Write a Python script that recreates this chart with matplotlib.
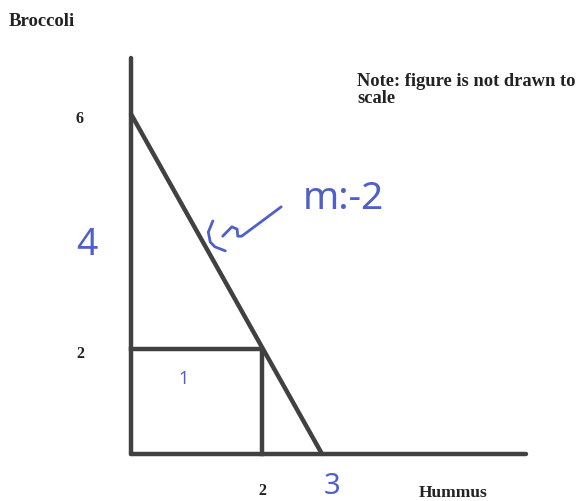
import numpy as np
import matplotlib
matplotlib.use("Agg")
import matplotlib.pyplot as plt

# budget line and the bundle on it
budget_x = [0, 3]
budget_y = [6, 0]
bundle_x = 2
bundle_y = 2
axis_end_x = 6.4
axis_end_y = 6.95

# printed tick labels
x_ticks = [2]
y_ticks = [6, 2]

# hand-written notes (value, position in data units)
slope_note = "m:-2"
intercept_note = ("3", 3)
height_note = ("4", 4)
area_note = ("1", 1.0, 1.5)

# pen squiggle pointing at the budget line
squiggle_paren_x = [1.25, 1.18, 1.21, 1.28, 1.44]
squiggle_paren_y = [4.18, 3.99, 3.82, 3.74, 3.67]
squiggle_wave_x = [1.40, 1.54, 1.62, 1.63, 1.69, 2.32]
squiggle_wave_y = [3.92, 4.08, 4.04, 3.92, 3.92, 4.42]

W, H = 579, 502
ink = "#414141"
pen = "#5060c8"


def piecewise(src, dst):
    # piecewise linear map with linear extension past both ends
    src = np.asarray(src, float)
    dst = np.asarray(dst, float)
    lo_slope = (dst[1] - dst[0]) / (src[1] - src[0])
    hi_slope = (dst[-1] - dst[-2]) / (src[-1] - src[-2])

    def f(v):
        v = np.asarray(v, float)
        out = np.interp(v, src, dst)
        out = np.where(v < src[0], dst[0] + (v - src[0]) * lo_slope, out)
        out = np.where(v > src[-1], dst[-1] + (v - src[-1]) * hi_slope, out)
        return out
    return f


# the sketch is not to scale, so each axis gets its own spacing
x_knots, x_px = [0, 2, 3], [131, 262, 322]
y_knots, y_px = [0, 2, 6], [H - 455, H - 350, H - 115]
fx, fx_inv = piecewise(x_knots, x_px), piecewise(x_px, x_knots)
fy, fy_inv = piecewise(y_knots, y_px), piecewise(y_px, y_knots)

fig = plt.figure(figsize=(W / 100, H / 100), dpi=100)
ax = fig.add_axes([0, 0, 1, 1])
ax.set_xscale("function", functions=(fx, fx_inv))
ax.set_yscale("function", functions=(fy, fy_inv))
ax.set_xlim(float(fx_inv(0)), float(fx_inv(W)))
ax.set_ylim(float(fy_inv(0)), float(fy_inv(H)))
ax.axis("off")

lw = 3.2
ax.plot([0, 0], [0, axis_end_y], color=ink, lw=lw, solid_capstyle="round")
ax.plot([0, axis_end_x], [0, 0], color=ink, lw=lw, solid_capstyle="round")
ax.plot(budget_x, budget_y, color=ink, lw=lw, solid_capstyle="round")
ax.plot([0, bundle_x, bundle_x], [bundle_y, bundle_y, 0], color=ink, lw=lw)

serif = dict(family="Liberation Serif", weight="bold", color="#222222")
for t in y_ticks:
    ax.text(-0.78, t - 0.07, str(t), ha="center", va="center", fontsize=11.5, **serif)
for t in x_ticks:
    ax.text(t, -0.68, str(t), ha="center", va="center", fontsize=11.5, **serif)

fig.text(9 / W, 1 - 21 / H, "Broccoli", ha="left", va="center", fontsize=13.5, **serif)
fig.text(453 / W, 1 - 493 / H, "Hummus", ha="center", va="center", fontsize=12.5, **serif)
fig.text(357 / W, 1 - 73 / H, "Note: figure is not drawn to\nscale", ha="left", va="top",
         fontsize=13.3, linespacing=1.0, **serif)

hand = dict(family="Noto Sans", weight="light", color=pen)
ax.text(2.68, 4.57, slope_note, ha="left", va="center", fontsize=28, **hand)
ax.text(intercept_note[1] + 0.17, -0.6, intercept_note[0], ha="center", va="center", fontsize=21, **hand)
ax.text(-0.68, height_note[1] - 0.22, height_note[0], ha="center", va="center", fontsize=27, **hand)
ax.text(area_note[1] - 0.2, area_note[2] - 0.05, area_note[0], ha="center", va="center", fontsize=13, **hand)

ax.plot(squiggle_paren_x, squiggle_paren_y, color=pen, lw=2, solid_capstyle="round")
ax.plot(squiggle_wave_x, squiggle_wave_y, color=pen, lw=2, solid_capstyle="round")

fig.savefig("out.png", dpi=100)
